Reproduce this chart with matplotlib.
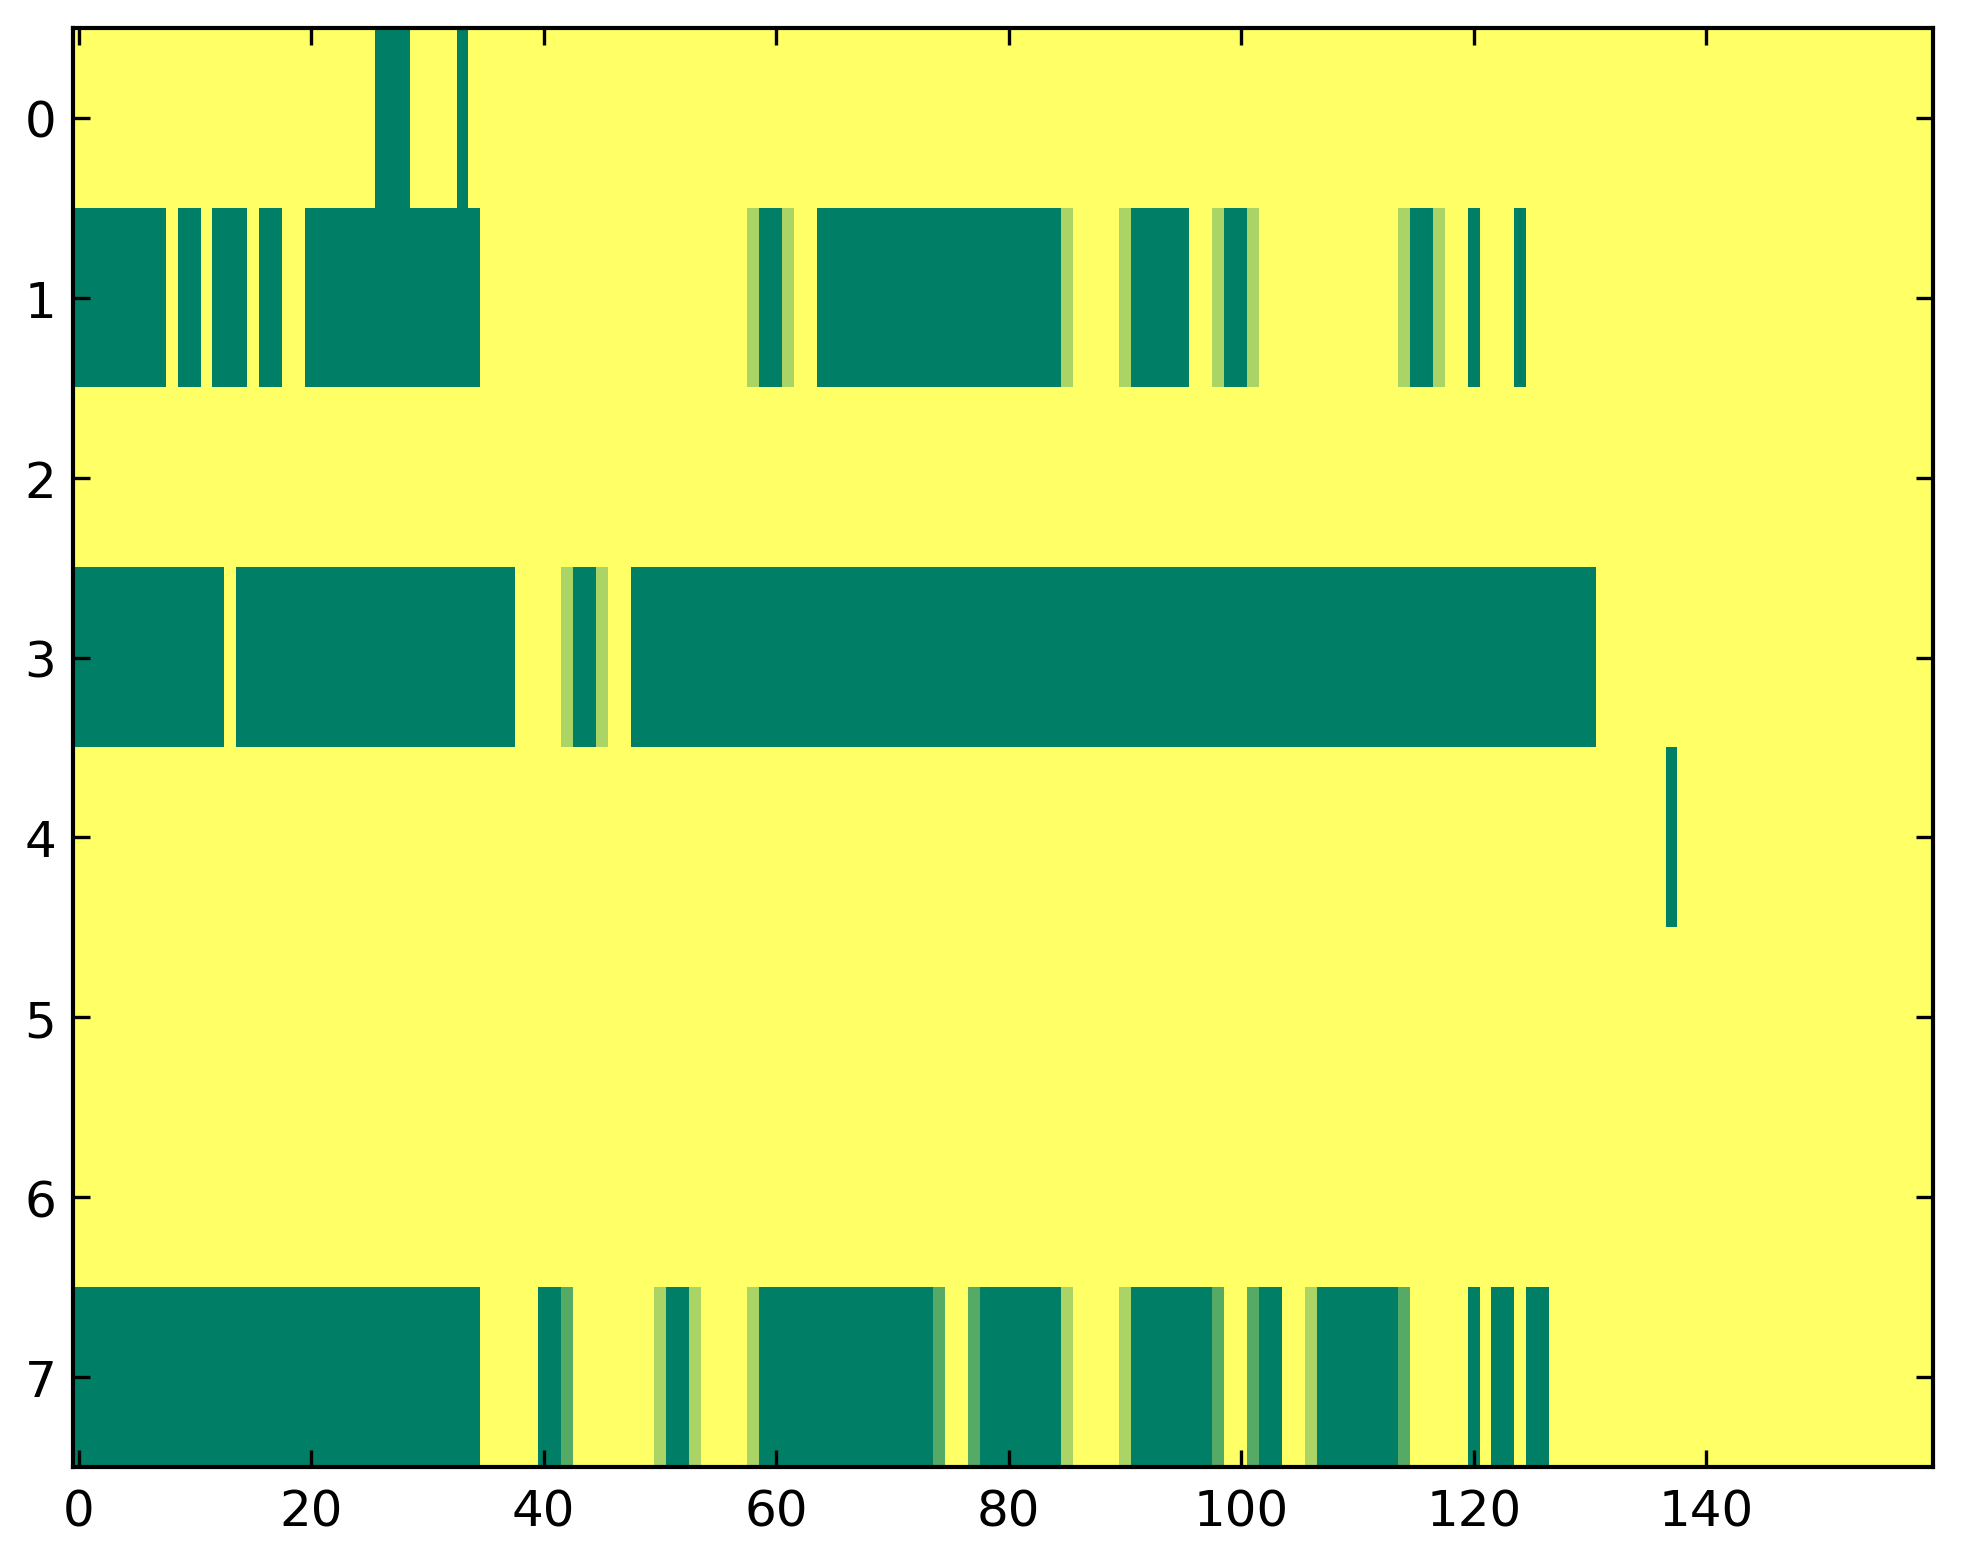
import numpy as np
import matplotlib
matplotlib.use("Agg")
import matplotlib.pyplot as plt

# levels: 0 = green, 1 = mid, 2 = light, 3 = yellow (background)
n_rows = 8
n_cols = 160
background = 3

# runs per row: (first column, last column, level)
row0_runs = [(26, 28, 0), (33, 33, 0)]
row1_runs = [
    (0, 7, 0), (9, 10, 0), (12, 14, 0), (16, 17, 0), (20, 34, 0),
    (58, 58, 2), (59, 60, 0), (61, 61, 2), (64, 84, 0), (85, 85, 2),
    (90, 90, 2), (91, 95, 0), (98, 98, 2), (99, 100, 0), (101, 101, 2),
    (114, 114, 2), (115, 116, 0), (117, 117, 2), (120, 120, 0), (124, 124, 0),
]
row2_runs = []
row3_runs = [
    (0, 12, 0), (14, 37, 0), (42, 42, 2), (43, 44, 0), (45, 45, 2), (48, 130, 0),
]
row4_runs = [(137, 137, 0)]
row5_runs = []
row6_runs = []
row7_runs = [
    (0, 34, 0), (40, 41, 0), (42, 42, 1), (50, 50, 2), (51, 52, 0), (53, 53, 2),
    (58, 58, 2), (59, 73, 0), (74, 74, 1), (77, 77, 1), (78, 84, 0), (85, 85, 2),
    (90, 90, 2), (91, 97, 0), (98, 98, 1), (101, 101, 1), (102, 103, 0),
    (106, 106, 2), (107, 113, 0), (114, 114, 1), (120, 120, 0), (122, 123, 0),
    (125, 126, 0),
]
all_runs = [row0_runs, row1_runs, row2_runs, row3_runs,
            row4_runs, row5_runs, row6_runs, row7_runs]

grid = np.full((n_rows, n_cols), background, dtype=float)
for row_index, runs in enumerate(all_runs):
    for first, last, level in runs:
        grid[row_index, first:last + 1] = level

x_ticks = [0, 20, 40, 60, 80, 100, 120, 140]
y_ticks = list(range(n_rows))

plt.rcParams["font.family"] = "DejaVu Sans"
plt.rcParams["font.size"] = 12

fig = plt.figure(figsize=(1963 / 300, 1564 / 300), dpi=300)
ax = fig.add_axes([73 / 1963, 1 - 1468 / 1564, (1933 - 73) / 1963, (1468 - 29) / 1564])
ax.imshow(grid, cmap="summer", vmin=0, vmax=3, aspect="auto", interpolation="nearest")

ax.set_xticks(x_ticks)
ax.set_yticks(y_ticks)
ax.tick_params(direction="in", top=True, right=True, length=4, width=0.8,
               labelsize=12, pad=4)
ax.tick_params(axis="x", pad=5)
for spine in ax.spines.values():
    spine.set_linewidth(1.0)

fig.savefig("out.png", dpi=300)
